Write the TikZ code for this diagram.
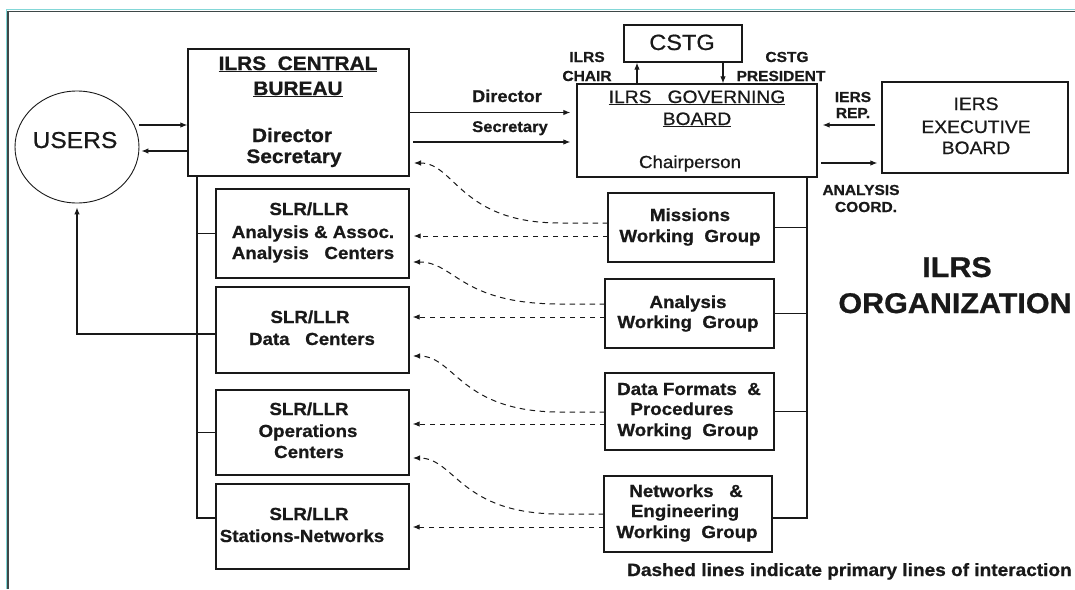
\documentclass[tikz,border=0pt]{standalone}
\usepackage{fontspec}
\setmainfont{Liberation Sans}[FakeStretch=1.07, UprightFeatures={FakeBold=0.6}, BoldFeatures={FakeBold=0.8}]
\usetikzlibrary{arrows.meta,shapes.geometric,calc}
\definecolor{framedark}{RGB}{62,72,72}
\definecolor{framelight}{RGB}{130,215,215}
\definecolor{ink}{RGB}{25,25,25}
\begin{document}
\begin{tikzpicture}[x=1pt,y=-1pt,
  box/.style={draw=ink, rectangle, inner sep=0pt, line width=1.3pt},
  ln/.style={draw=ink, line width=1.1pt},
  arr/.style={draw=ink, line width=1.1pt, -{Latex[length=7pt,width=5.5pt]}},
  darr/.style={draw=ink, line width=1pt, dash pattern=on 5.5pt off 4.5pt, -{Latex[length=7pt,width=5.5pt]}},
  txt/.style={anchor=base, inner sep=0pt, text=ink},
  fB/.style={font=\fontsize{17.5}{20}\selectfont\bfseries},
  fL/.style={font=\fontsize{14.5}{17}\selectfont\bfseries},
  fT/.style={font=\fontsize{19.5}{22}\selectfont\bfseries},
  fR/.style={font=\fontsize{18}{20}\selectfont},
]
\useasboundingbox (0,0) rectangle (1075,589);
\fill[white] (0,0) rectangle (1075,589);
% frame
\draw[framelight, line width=1pt] (6.5,589) -- (6.5,9.6) -- (1075,9.6);
\draw[framedark, line width=1.6pt] (8.2,589) -- (8.2,11.3) -- (1075,11.3);

% boxes
\node[box, ellipse, minimum width=124pt, minimum height=112pt, line width=0.9pt] (users) at (77,147) {};
\node[box, minimum width=221pt, minimum height=127pt] (cb) at (298.5,112.5) {};
\node[box, minimum width=118pt, minimum height=37pt] (cstg) at (683,43.5) {};
\node[box, minimum width=240pt, minimum height=93pt] (gb) at (697,130.5) {};
\node[box, minimum width=186pt, minimum height=91pt] (iers) at (975,127.5) {};
\node[box, minimum width=193pt, minimum height=89pt] (ac) at (312.5,233.5) {};
\node[box, minimum width=193pt, minimum height=86pt] (dc) at (312.5,330) {};
\node[box, minimum width=193pt, minimum height=85pt] (oc) at (312.5,432.5) {};
\node[box, minimum width=193pt, minimum height=85pt] (sn) at (312.5,526.5) {};
\node[box, minimum width=166pt, minimum height=69pt] (mwg) at (691,227.5) {};
\node[box, minimum width=169pt, minimum height=69pt] (awg) at (689.5,313.5) {};
\node[box, minimum width=169pt, minimum height=77pt] (dfwg) at (689.5,411.5) {};
\node[box, minimum width=168pt, minimum height=76pt] (newg) at (688,514) {};

% texts in boxes
\node[txt, font=\fontsize{23}{26}\selectfont] (usersT) at (75,148) {USERS};
\node[txt, fT] (cbT1) at (298,70) {\underline{ILRS\ \ CENTRAL}};
\node[txt, fT] (cbT2) at (298,95) {\underline{BUREAU}};
\node[txt, fT] (cbT3) at (292,142) {Director};
\node[txt, fT] (cbT4) at (294,163) {Secretary};
\node[txt, font=\fontsize{22}{24}\selectfont] (cstgT) at (682,50) {CSTG};
\node[txt, fR] (gbT1) at (697,103) {\underline{ILRS\ \ \ GOVERNING}};
\node[txt, fR] (gbT2) at (697,125) {\underline{BOARD}};
\node[txt, font=\fontsize{17.5}{20}\selectfont] (gbT3) at (690,168) {Chairperson};
\node[txt, fR] (ieT1) at (976,110) {IERS};
\node[txt, fR] (ieT2) at (976,133) {EXECUTIVE};
\node[txt, fR] (ieT3) at (976,154) {BOARD};

\node[txt, fB] (acT1) at (309,215) {SLR/LLR};
\node[txt, fB] (acT2) at (313,238) {Analysis \& Assoc.};
\node[txt, fB] (acT3) at (313,259) {Analysis\ \ \ Centers};
\node[txt, fB] (dcT1) at (310,323) {SLR/LLR};
\node[txt, fB] (dcT2) at (312,345) {Data\ \ \ Centers};
\node[txt, fB] (ocT1) at (309,415) {SLR/LLR};
\node[txt, fB] (ocT2) at (308,437) {Operations};
\node[txt, fB] (ocT3) at (309,458) {Centers};
\node[txt, fB] (snT1) at (309,520) {SLR/LLR};
\node[txt, fB] (snT2) at (302,542) {Stations-Networks};

\node[txt, fB] (mwT1) at (690,221) {Missions};
\node[txt, fB] (mwT2) at (690,242) {Working\ \ Group};
\node[txt, fB] (awT1) at (688,308) {Analysis};
\node[txt, fB] (awT2) at (688,328) {Working\ \ Group};
\node[txt, fB] (dfT1) at (689,395) {Data Formats\ \ \&};
\node[txt, fB] (dfT2) at (682,415) {Procedures};
\node[txt, fB] (dfT3) at (688,436) {Working\ \ Group};
\node[txt, fB] (neT1) at (686,497) {Networks\ \ \ \&};
\node[txt, fB] (neT2) at (685,517) {Engineering};
\node[txt, fB] (neT3) at (687,538) {Working\ \ Group};

% labels
\node[txt, font=\fontsize{17}{20}\selectfont\bfseries] (lDir) at (507,102) {Director};
\node[txt, font=\fontsize{15.5}{18}\selectfont\bfseries] (lSec) at (510,132) {Secretary};
\node[txt, fL] (lCh1) at (587,62) {ILRS};
\node[txt, fL] (lCh2) at (587,81) {CHAIR};
\node[txt, fL] (lPr1) at (787,62) {CSTG};
\node[txt, fL] (lPr2) at (781,81) {PRESIDENT};
\node[txt, fL] (lIe1) at (853,102) {IERS};
\node[txt, fL] (lIe2) at (853,118) {REP.};
\node[txt, fL] (lAn1) at (861,195) {ANALYSIS};
\node[txt, fL] (lAn2) at (866,212) {COORD.};
\node[txt, font=\fontsize{28.5}{32}\selectfont\bfseries] (org1) at (957,277) {ILRS};
\node[txt, font=\fontsize{28.5}{32}\selectfont\bfseries] (org2) at (955,313) {ORGANIZATION};
\node[txt, anchor=base west, font=\fontsize{17.8}{20}\selectfont\bfseries] (note) at (627,576) {Dashed lines indicate primary lines of interaction};

% solid connectors
\coordinate (u1) at (139,125);
\draw[arr] (u1) -- (u1 -| cb.west);
\coordinate (c1) at (188,151);
\draw[arr, shorten >=2pt] (c1) -- (c1 -| users.east);
\draw[arr, shorten >=6pt] (cb.east) -- (cb.east -| gb.west);
\coordinate (s1) at (413,142);
\draw[arr, shorten >=6pt] (s1) -- (s1 -| gb.west);
\coordinate (g1) at (637,84);
\draw[arr] (g1) -- (g1 |- cstg.south);
\coordinate (g2) at (723,62);
\draw[arr] (g2) -- (g2 |- gb.north);
\coordinate (i1) at (875,125);
\draw[arr, shorten >=5pt] (i1) -- (i1 -| gb.east);
\coordinate (g3) at (821,163);
\draw[arr, shorten >=4pt] (g3) -- (g3 -| iers.west);

% governing board tree
\coordinate (gv) at (807,177);
\coordinate (gvb) at (807,518);
\draw[ln] (gv) -- (gvb) -- (gvb -| newg.east);
\draw[ln] (mwg.east) -- (mwg.east -| gv);
\draw[ln] (awg.east) -- (awg.east -| gv);
\draw[ln] (dfwg.east) -- (dfwg.east -| gv);

% central bureau tree
\coordinate (cv) at (197,176);
\coordinate (cvb) at (197,518);
\draw[ln] (cv) -- (cvb) -- (cvb -| sn.west);
\draw[ln] (ac.west) -- (ac.west -| cv);
\draw[ln] (oc.west) -- (oc.west -| cv);
\coordinate (d1) at (216,334);
\draw[arr, shorten >=4pt] (d1) -| (users.south);

% dashed straight
\coordinate (m2) at (608,236);
\draw[darr, shorten >=4pt] (m2) -- (m2 -| ac.east);
\coordinate (a2) at (605,317);
\draw[darr, shorten >=3pt] (a2) -- (a2 -| dc.east);
\coordinate (f2) at (605,424);
\draw[darr, shorten >=3pt] (f2) -- (f2 -| oc.east);
\coordinate (n2) at (604,527);
\draw[darr, shorten >=3pt] (n2) -- (n2 -| sn.east);

% dashed curves
\coordinate (m1) at (608,223); \coordinate (cbd) at (409,163);
\draw[darr, shorten >=5pt] (m1) -- (560,223) .. controls (460,223) and (455,163) .. (cbd);
\coordinate (a1) at (605,304); \coordinate (acd) at (409,262);
\draw[darr, shorten >=4pt] (a1) -- (560,304) .. controls (460,304) and (455,262) .. (acd);
\coordinate (f1) at (605,412); \coordinate (dcd) at (409,356);
\draw[darr, shorten >=4pt] (f1) -- (560,412) .. controls (460,412) and (455,356) .. (dcd);
\coordinate (n1) at (604,514); \coordinate (ocd) at (409,458);
\draw[darr, shorten >=4pt] (n1) -- (560,514) .. controls (460,514) and (455,458) .. (ocd);
\end{tikzpicture}
\end{document}
